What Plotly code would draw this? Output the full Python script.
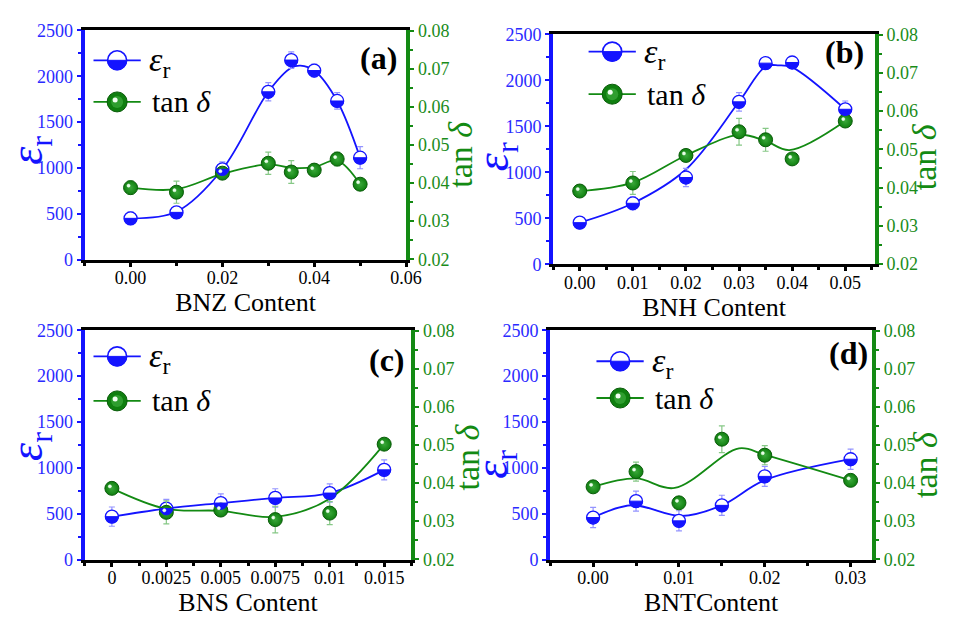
import plotly.graph_objects as go

W, H = 953, 617
FONT = "Liberation Serif, Times New Roman, Times, serif"
BLUE = "#1414ff"
BLUE_TXT = "#2a2aff"
BLUE_ERR = "#9494ff"
GREEN = "#138a13"
GREEN_TXT = "#1a8c1a"
GREEN_ERR = "#86c886"
BALL = "#0f7f0f"
BALL_EDGE = "#0a5c0a"

# ---------------- (a) BNZ ----------------
bnz_x = [0, 0.01, 0.02, 0.03, 0.035, 0.04, 0.045, 0.05]
bnz_eps = [450, 515, 985, 1830, 2176, 2062, 1730, 1111]
bnz_eps_err = [70, 60, 80, 100, 90, 70, 90, 120]
bnz_tan = [0.0388, 0.0376, 0.0426, 0.0452, 0.0429, 0.0434, 0.0463, 0.0397]
bnz_tan_err = [0.0018, 0.0029, 0.0015, 0.0029, 0.0030, 0.0015, 0.0018, 0.0015]
bnz_eps_curve_x = [0, 0.01, 0.02, 0.03, 0.035, 0.037, 0.04, 0.045, 0.05]
bnz_eps_curve = [450, 522, 985, 1830, 2092, 2115, 2062, 1730, 1111]
bnz_tan_curve_x = [0, 0.01, 0.02, 0.03, 0.035, 0.04, 0.045, 0.05]
bnz_tan_curve = [0.0388, 0.0384, 0.0424, 0.0449, 0.0440, 0.0442, 0.0459, 0.0397]

# ---------------- (b) BNH ----------------
bnh_x = [0, 0.01, 0.02, 0.03, 0.035, 0.04, 0.05]
bnh_eps = [454, 664, 944, 1766, 2186, 2193, 1685]
bnh_eps_err = [50, 70, 100, 100, 60, 60, 90]
bnh_tan = [0.0391, 0.0412, 0.0484, 0.0546, 0.0525, 0.0475, 0.0574]
bnh_tan_err = [0.0010, 0.0030, 0.0015, 0.0035, 0.0030, 0.0010, 0.0010]
bnh_eps_curve_x = [0, 0.01, 0.02, 0.03, 0.035, 0.0375, 0.04, 0.05]
bnh_eps_curve = [454, 664, 1031, 1766, 2150, 2162, 2140, 1685]
bnh_tan_curve_x = [0, 0.01, 0.02, 0.03, 0.035, 0.0395, 0.05]
bnh_tan_curve = [0.0391, 0.0413, 0.0484, 0.0538, 0.0522, 0.0498, 0.0574]

# ---------------- (c) BNS ----------------
bns_labels = ["0", "0.0025", "0.005", "0.0075", "0.01", "0.015"]
bns_eps = [468, 556, 616, 672, 725, 978]
bns_eps_err = [105, 100, 100, 100, 100, 110]
bns_tan = [0.0386, 0.0323, 0.0329, 0.0304, 0.0321, 0.0502]
bns_tan_err = [0.0015, 0.0030, 0.0015, 0.0035, 0.0030, 0.0015]
bns_eps_curve = [468, 556, 616, 672, 725, 978]
bns_tan_curve = [0.0386, 0.0332, 0.0327, 0.0311, 0.0359, 0.0502]

# ---------------- (d) BNT ----------------
bnt_x = [0, 0.005, 0.01, 0.015, 0.02, 0.03]
bnt_eps = [458, 637, 422, 591, 907, 1094]
bnt_eps_err = [110, 110, 110, 110, 110, 110]
bnt_tan = [0.0390, 0.0430, 0.0348, 0.0515, 0.0473, 0.0407]
bnt_tan_err = [0.0015, 0.0025, 0.0015, 0.0035, 0.0025, 0.0015]
bnt_eps_curve_x = [0, 0.0045, 0.0103, 0.015, 0.02, 0.03]
bnt_eps_curve = [458, 592, 475, 591, 865, 1094]
bnt_tan_curve_x = [0, 0.005, 0.0095, 0.017, 0.02, 0.03]
bnt_tan_curve = [0.0390, 0.0412, 0.0387, 0.0491, 0.0474, 0.0407]

eps_ticks = [0, 500, 1000, 1500, 2000, 2500]
tan_ticks = [0.02, 0.03, 0.04, 0.05, 0.06, 0.07, 0.08]

bns_idx = list(range(len(bns_labels)))

panels = [
    dict(tag="(a)", xtitle="BNZ Content",
         x=bnz_x, eps=bnz_eps, eps_err=bnz_eps_err, tan=bnz_tan, tan_err=bnz_tan_err,
         ecx=bnz_eps_curve_x, ecy=bnz_eps_curve, tcx=bnz_tan_curve_x, tcy=bnz_tan_curve,
         xdom=(86, 413), ydom=(21, 258), xrange=[-0.01, 0.0601],
         xticks=dict(tick0=0, dtick=0.02, tickformat=".2f"), xminor=0.01,
         lab=(385, 50), ltitle=(31, 145), rtitle=(468, 149),
         leg=(119, 52, 95)),
    dict(tag="(b)", xtitle="BNH Content",
         x=bnh_x, eps=bnh_eps, eps_err=bnh_eps_err, tan=bnh_tan, tan_err=bnh_tan_err,
         ecx=bnh_eps_curve_x, ecy=bnh_eps_curve, tcx=bnh_tan_curve_x, tcy=bnh_tan_curve,
         xdom=(562, 889), ydom=(25, 263), xrange=[-0.005, 0.0556],
         xticks=dict(tick0=0, dtick=0.01, tickformat=".2f"), xminor=0.005,
         lab=(858, 43), ltitle=(504, 152), rtitle=(939, 152),
         leg=(622, 43, 87)),
    dict(tag="(c)", xtitle="BNS Content",
         x=bns_idx, eps=bns_eps, eps_err=bns_eps_err, tan=bns_tan, tan_err=bns_tan_err,
         ecx=bns_idx, ecy=bns_eps_curve, tcx=bns_idx, tcy=bns_tan_curve,
         xdom=(86, 418), ydom=(331, 568), xrange=[-0.5, 5.5],
         xticks=dict(tickmode="array", tickvals=bns_idx, ticktext=bns_labels), xminor=0.5,
         lab=(393, 362), ltitle=(31, 451), rtitle=(474, 462),
         leg=(119, 358, 404)),
    dict(tag="(d)", xtitle="BNTContent",
         x=bnt_x, eps=bnt_eps, eps_err=bnt_eps_err, tan=bnt_tan, tan_err=bnt_tan_err,
         ecx=bnt_eps_curve_x, ecy=bnt_eps_curve, tcx=bnt_tan_curve_x, tcy=bnt_tan_curve,
         xdom=(559, 886), ydom=(331, 568), xrange=[-0.005, 0.0325],
         xticks=dict(tick0=0, dtick=0.01, tickformat=".2f"), xminor=0.005,
         lab=(862, 355), ltitle=(503, 470), rtitle=(941, 470),
         leg=(630, 363, 401)),
]


def fx(px):
    return px / W


def fy(py):
    return 1 - py / H


def half_disc(xref, yref, xa, ya, r, color):
    k = 0.5523 * r
    path = (f"M {-r},0 C {-r},{-k} {-k},{-r} 0,{-r} "
            f"C {k},{-r} {r},{-k} {r},0 Z")
    return dict(type="path", xref=xref, yref=yref, xsizemode="pixel",
                ysizemode="pixel", xanchor=xa, yanchor=ya, path=path,
                fillcolor=color, line=dict(color=color, width=1), layer="above")


def disc(xref, yref, xa, ya, r, fill, line_color, lw=1.0, dx=0, dy=0):
    return dict(type="circle", xref=xref, yref=yref, xsizemode="pixel",
                ysizemode="pixel", xanchor=xa, yanchor=ya,
                x0=dx - r, x1=dx + r, y0=dy - r, y1=dy + r,
                fillcolor=fill, line=dict(color=line_color, width=lw), layer="above")


def note(x, y, text, size, color, angle=0, anchor="center"):
    return dict(xref="paper", yref="paper", x=fx(x), y=fy(y), text=text,
                textangle=angle, showarrow=False, xanchor=anchor, yanchor="middle",
                font=dict(family=FONT, size=size, color=color))


fig = go.Figure()
shapes = []
annotations = []
layout = {}

for i, p in enumerate(panels):
    xid = "x" if i == 0 else f"x{i + 1}"
    yl = "y" if i == 0 else f"y{2 * i + 1}"
    yr = f"y{2 * i + 2}"
    xkey = "xaxis" if i == 0 else f"xaxis{i + 1}"
    ylkey = "yaxis" if i == 0 else f"yaxis{2 * i + 1}"
    yrkey = f"yaxis{2 * i + 2}"

    # smoothed connecting curves
    fig.add_trace(go.Scatter(x=p["ecx"], y=p["ecy"], mode="lines",
                             line=dict(color=BLUE, width=1.8, shape="spline", smoothing=1.0),
                             xaxis=xid, yaxis=yl, hoverinfo="skip"))
    fig.add_trace(go.Scatter(x=p["tcx"], y=p["tcy"], mode="lines",
                             line=dict(color=GREEN, width=1.8, shape="spline", smoothing=1.0),
                             xaxis=xid, yaxis=yr, hoverinfo="skip"))
    # permittivity points
    fig.add_trace(go.Scatter(x=p["x"], y=p["eps"], mode="markers",
                             marker=dict(symbol="circle", size=13, color="white",
                                         line=dict(color=BLUE, width=1.3)),
                             error_y=dict(type="data", array=p["eps_err"], color=BLUE_ERR,
                                          thickness=1.2, width=3),
                             xaxis=xid, yaxis=yl))
    # loss tangent points
    fig.add_trace(go.Scatter(x=p["x"], y=p["tan"], mode="markers",
                             marker=dict(symbol="circle", size=14, color=BALL,
                                         gradient=dict(type="radial", color="#3aa83a"),
                                         line=dict(color=BALL_EDGE, width=1)),
                             error_y=dict(type="data", array=p["tan_err"], color=GREEN_ERR,
                                          thickness=1.2, width=3),
                             xaxis=xid, yaxis=yr))

    for xv, ev in zip(p["x"], p["eps"]):
        shapes.append(half_disc(xid, yl, xv, ev, 6.3, BLUE))
    for xv, tv in zip(p["x"], p["tan"]):
        shapes.append(disc(xid, yr, xv, tv, 1.6, "#eaffea", "#eaffea", 0.5, dx=-2, dy=2))

    x0, x1 = p["xdom"]
    t0, t1 = p["ydom"]
    layout[xkey] = dict(
        domain=[fx(x0), fx(x1)], range=p["xrange"], anchor=yl,
        showline=True, linecolor="black", linewidth=3, mirror=True,
        ticks="outside", ticklen=4, tickwidth=2.5, tickcolor="black",
        tickfont=dict(family=FONT, size=18, color="black"), ticklabelstandoff=-4,
        title=dict(text=p["xtitle"], font=dict(family=FONT, size=26, color="black"),
                   standoff=0),
        showgrid=False, zeroline=False,
        minor=dict(ticks="outside", ticklen=3, tickwidth=2.5, tickcolor="black",
                   dtick=p["xminor"], showgrid=False),
        **p["xticks"])
    layout[ylkey] = dict(
        domain=[fy(t1), fy(t0)], range=[-0.5, 2500.5], anchor=xid, side="left",
        showline=True, linecolor=BLUE, linewidth=4,
        tickmode="array", tickvals=eps_ticks,
        ticks="outside", ticklen=4, tickwidth=2, tickcolor=BLUE,
        tickfont=dict(family=FONT, size=18, color=BLUE_TXT),
        showgrid=False, zeroline=False,
        minor=dict(ticks="outside", ticklen=3, tickwidth=2, tickcolor=BLUE,
                   dtick=250, showgrid=False))
    layout[yrkey] = dict(
        range=[0.0199, 0.0801], anchor=xid, overlaying=yl, side="right",
        showline=True, linecolor=GREEN, linewidth=4,
        tickmode="array", tickvals=tan_ticks, tickformat=".2f",
        ticks="outside", ticklen=4, tickwidth=2, tickcolor=GREEN,
        tickfont=dict(family=FONT, size=18, color=GREEN_TXT),
        showgrid=False, zeroline=False,
        minor=dict(ticks="outside", ticklen=3, tickwidth=2, tickcolor=GREEN,
                   dtick=0.005, showgrid=False))

    # axis titles and panel tag
    annotations.append(note(*p["ltitle"], "<i>ε</i><sub>r</sub>", 46, BLUE, angle=-90))
    annotations.append(note(*p["rtitle"], "tan <i>δ</i>", 34, GREEN, angle=-90))
    annotations.append(note(*p["lab"], "<b>" + p["tag"] + "</b>", 32, "black"))

    # in-panel legend
    sx, sy1, sy2 = p["leg"]
    for sy, col in ((sy1, BLUE), (sy2, GREEN)):
        shapes.append(dict(type="line", xref="paper", yref="paper",
                           x0=fx(sx - 24), x1=fx(sx + 24), y0=fy(sy), y1=fy(sy),
                           line=dict(color=col, width=1.8), layer="above"))
    shapes.append(disc("paper", "paper", fx(sx), fy(sy1), 9.5, "white", BLUE, 1.6))
    shapes.append(half_disc("paper", "paper", fx(sx), fy(sy1), 9.5, BLUE))
    shapes.append(disc("paper", "paper", fx(sx), fy(sy2), 10, BALL, BALL_EDGE, 1))
    shapes.append(disc("paper", "paper", fx(sx), fy(sy2), 6, "#2f9e2f", "#2f9e2f", 0))
    shapes.append(disc("paper", "paper", fx(sx), fy(sy2), 2.5, "#f2fff2", "#f2fff2", 0,
                       dx=-2, dy=2))
    annotations.append(note(sx + 30, sy1 + 2, "<i>ε</i><sub>r</sub>", 34, "black",
                            anchor="left"))
    annotations.append(note(sx + 33, sy2, "tan <i>δ</i>", 30, "black", anchor="left"))

fig.update_layout(
    width=W, height=H, margin=dict(l=0, r=0, t=0, b=0),
    paper_bgcolor="white", plot_bgcolor="white", showlegend=False,
    font=dict(family=FONT),
    shapes=shapes, annotations=annotations, **layout)

fig.write_html("out.html")
